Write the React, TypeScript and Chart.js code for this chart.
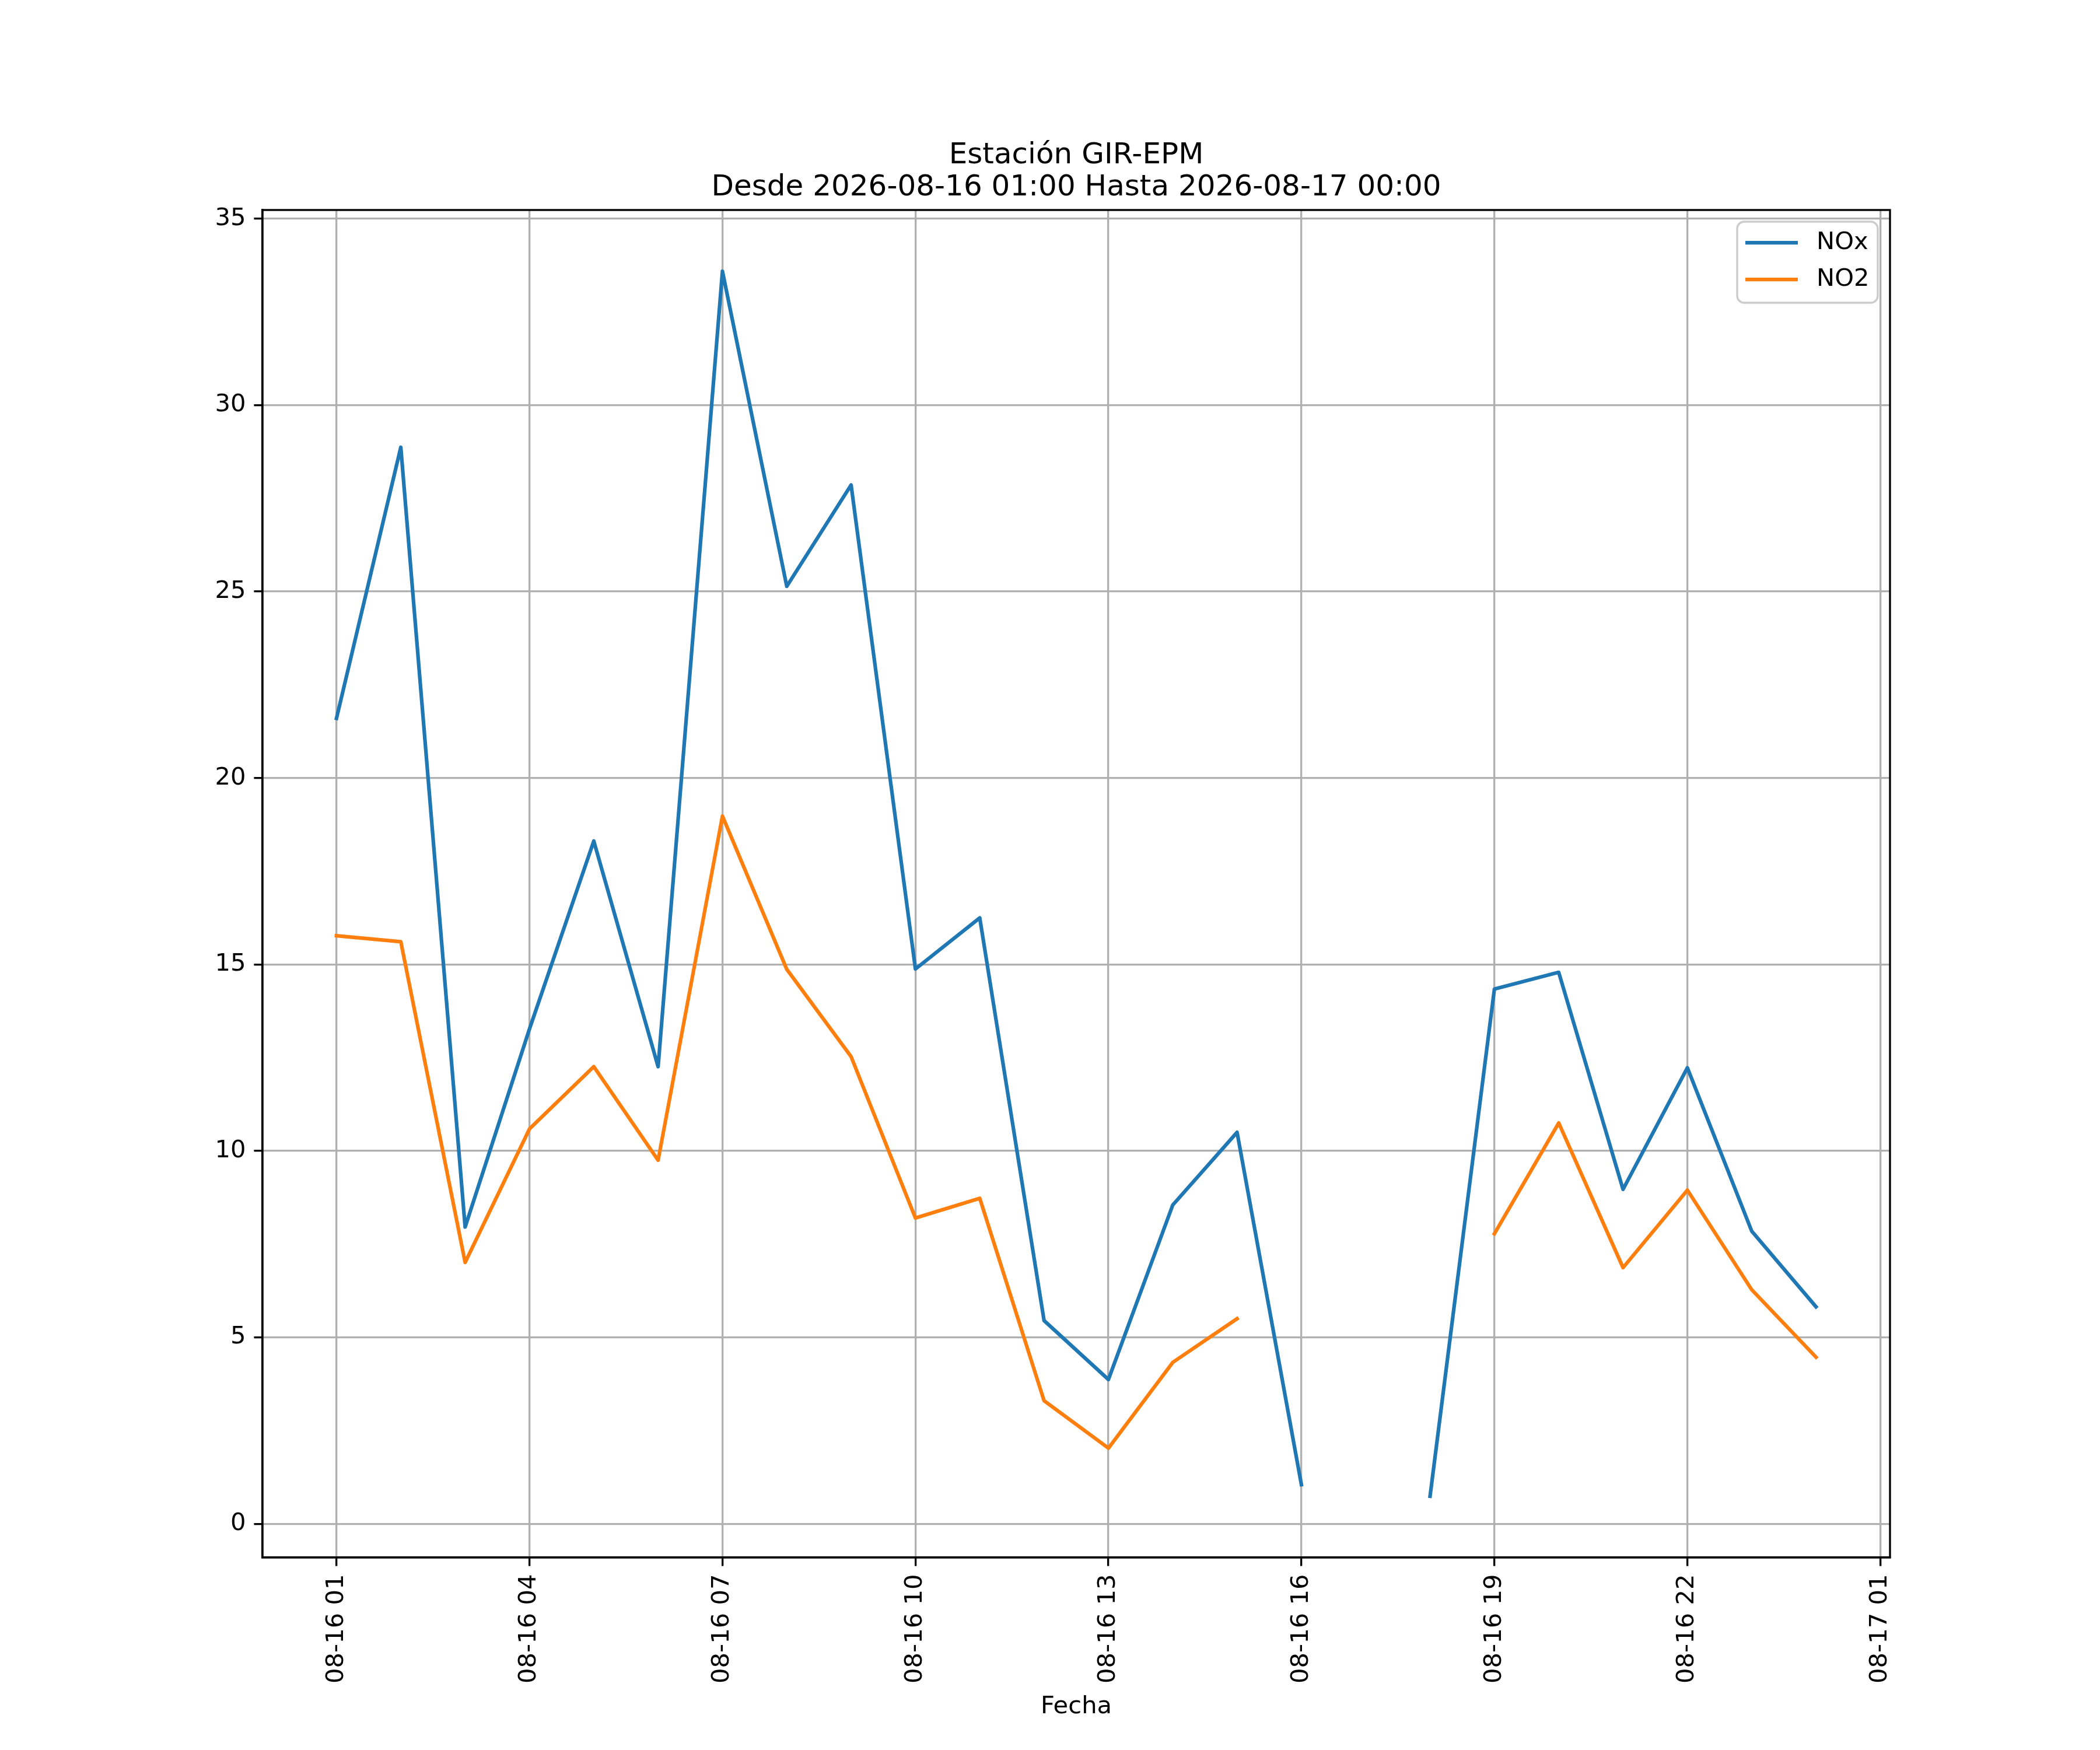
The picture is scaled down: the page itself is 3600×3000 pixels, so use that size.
import { useEffect, useRef } from "react"
import Chart from "chart.js/auto"

// hours since 2026-08-16 00:00
const hours = [1, 2, 3, 4, 5, 6, 7, 8, 9, 10, 11, 12, 13, 14, 15, 16, 17, 18, 19, 20, 21, 22, 23, 24]
const noxValues: (number | null)[] = [
  21.6, 28.87, 7.96, 13.27, 18.31, 12.26, 33.59, 25.14, 27.86, 14.88, 16.25, 5.45,
  3.87, 8.55, 10.5, 1.05, null, 0.74, 14.34, 14.79, 8.97, 12.23, 7.85, 5.82,
]
const no2Values: (number | null)[] = [
  15.77, 15.61, 7.01, 10.59, 12.26, 9.75, 18.98, 14.87, 12.53, 8.2, 8.73, 3.3,
  2.03, 4.33, 5.5, null, null, null, 7.78, 10.75, 6.87, 8.95, 6.28, 4.47,
]
const seriesLabels = ["NOx", "NO2"]
const seriesColors = ["#1f77b4", "#ff7f0e"]
const xTickHours = [1, 4, 7, 10, 13, 16, 19, 22, 25]
const xTickLabels = [
  "08-16 01", "08-16 04", "08-16 07", "08-16 10", "08-16 13",
  "08-16 16", "08-16 19", "08-16 22", "08-17 01",
]
const yTicks = [0, 5, 10, 15, 20, 25, 30, 35]
const titleLines = ["Estación GIR-EPM", "Desde 2026-08-16 01:00 Hasta 2026-08-17 00:00"]
const xAxisLabel = "Fecha"

const FONT = "'DejaVu Sans', sans-serif"
const LW = 3.33 // 0.8pt at 300 dpi

// matplotlib-style 5% margins
const margin = (lo: number, hi: number) => [lo - (hi - lo) * 0.05, hi + (hi - lo) * 0.05]
const allY = [...noxValues, ...no2Values].filter((v): v is number => v !== null)
const [yMin, yMax] = margin(Math.min(...allY), Math.max(...allY))
const [xMin, xMax] = margin(hours[0], hours[hours.length - 1])

const decorations = {
  id: "decorations",
  afterDraw(chart: any) {
    const { ctx, chartArea } = chart
    const { left, right, top, bottom } = chartArea
    ctx.save()
    // top/right spines
    ctx.strokeStyle = "#000"
    ctx.lineWidth = LW
    ctx.strokeRect(left, top, right - left, bottom - top)

    // title
    ctx.fillStyle = "#000"
    ctx.textAlign = "center"
    ctx.textBaseline = "alphabetic"
    ctx.font = `50px ${FONT}`
    const cx = (left + right) / 2
    ctx.fillText(titleLines[0], cx, top - 80)
    ctx.fillText(titleLines[1], cx, top - 25)

    // x label
    ctx.font = `41.67px ${FONT}`
    ctx.fillText(xAxisLabel, cx, 2937)

    // legend
    const bx = right - 262
    const by = top + 20
    const bw = 241
    const bh = 139
    ctx.beginPath()
    ctx.roundRect(bx, by, bw, bh, 12)
    ctx.fillStyle = "rgba(255,255,255,0.8)"
    ctx.fill()
    ctx.strokeStyle = "#cccccc"
    ctx.lineWidth = LW
    ctx.stroke()
    chart.data.datasets.forEach((ds: any, i: number) => {
      const ly = by + 36 + i * 63
      ctx.strokeStyle = ds.borderColor
      ctx.lineWidth = 6.25
      ctx.lineCap = "butt"
      ctx.beginPath()
      ctx.moveTo(bx + 14, ly)
      ctx.lineTo(bx + 104, ly)
      ctx.stroke()
      ctx.fillStyle = "#000"
      ctx.textAlign = "left"
      ctx.textBaseline = "middle"
      ctx.font = `41.67px ${FONT}`
      ctx.fillText(ds.label, bx + 136, ly)
    })
    ctx.restore()
  },
}

export default function App() {
  const canvasRef = useRef<HTMLCanvasElement>(null)
  const chartRef = useRef<Chart | null>(null)

  useEffect(() => {
    if (!canvasRef.current) return
    if (chartRef.current) chartRef.current.destroy()

    const toPoints = (vals: (number | null)[]) => hours.map((h, i) => ({ x: h, y: vals[i] }))
    const seriesData = [noxValues, no2Values]

    chartRef.current = new Chart(canvasRef.current, {
      type: "line",
      data: {
        datasets: seriesData.map((vals, i) => ({
          label: seriesLabels[i],
          data: toPoints(vals) as any,
          borderColor: seriesColors[i],
          backgroundColor: seriesColors[i],
          borderWidth: 6.25,
          pointRadius: 0,
          tension: 0,
          spanGaps: false,
          borderJoinStyle: "round" as const,
          borderCapStyle: "square" as const,
        })),
      },
      options: {
        responsive: false,
        devicePixelRatio: 1,
        animation: false,
        layout: { padding: { top: 360, right: 360, bottom: 0, left: 0 } },
        plugins: {
          legend: { display: false },
          title: { display: false },
          tooltip: { enabled: false },
        },
        scales: {
          x: {
            type: "linear",
            min: xMin,
            max: xMax,
            afterFit: (scale: any) => {
              scale.height = 330
            },
            afterBuildTicks: (scale: any) => {
              scale.ticks = xTickHours.map((v) => ({ value: v }))
            },
            ticks: {
              autoSkip: false,
              minRotation: 90,
              maxRotation: 90,
              padding: 14,
              color: "#000",
              font: { family: FONT, size: 41.67 },
              callback: (value: any) => xTickLabels[xTickHours.indexOf(Number(value))] ?? "",
            },
            grid: {
              color: "#b0b0b0",
              lineWidth: LW,
              tickColor: "#000",
              tickLength: 14.6,
              tickWidth: LW,
            },
            border: { display: true, color: "#000", width: LW },
          },
          y: {
            type: "linear",
            min: yMin,
            max: yMax,
            afterFit: (scale: any) => {
              scale.width = 450
            },
            afterBuildTicks: (scale: any) => {
              scale.ticks = yTicks.map((v) => ({ value: v }))
            },
            ticks: {
              padding: 14,
              color: "#000",
              font: { family: FONT, size: 41.67 },
              callback: (value: any) => String(value),
            },
            grid: {
              color: "#b0b0b0",
              lineWidth: LW,
              tickColor: "#000",
              tickLength: 14.6,
              tickWidth: LW,
            },
            border: { display: true, color: "#000", width: LW },
          },
        },
      },
      plugins: [decorations],
    })

    return () => {
      if (chartRef.current) {
        chartRef.current.destroy()
        chartRef.current = null
      }
    }
  }, [])

  return (
    <div style={{ position: "absolute", left: 0, top: 0, width: 3600, height: 3000, background: "#fff" }}>
      <canvas ref={canvasRef} width={3600} height={3000} style={{ width: 3600, height: 3000 }} />
    </div>
  )
}
